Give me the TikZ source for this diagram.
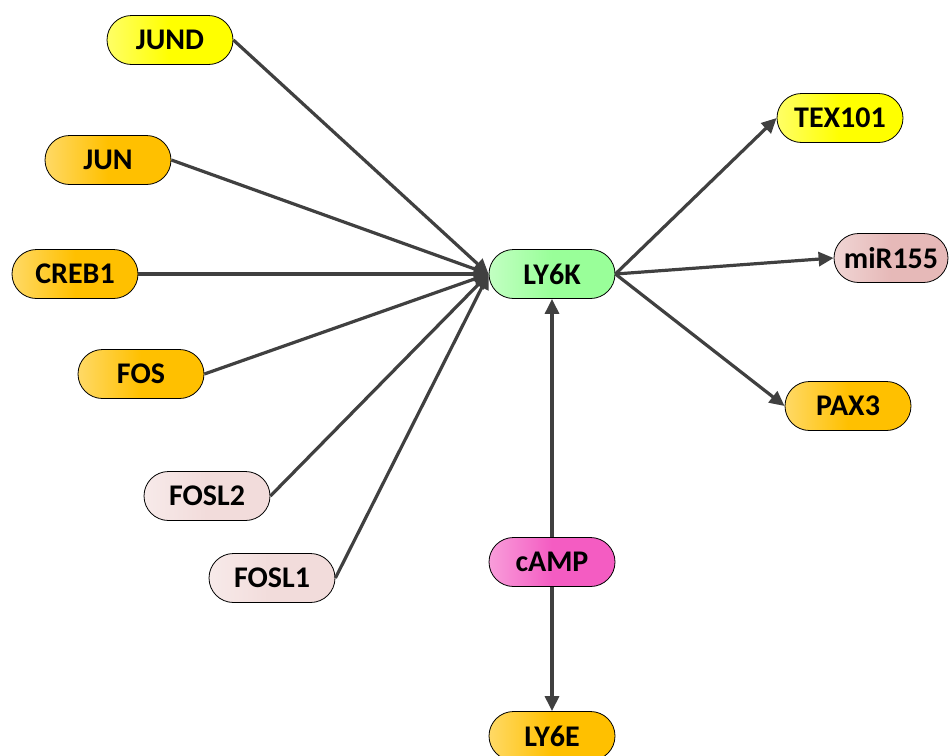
\documentclass[tikz,border=0pt]{standalone}
\usepackage{fontspec}
\setmainfont{Carlito}
\usetikzlibrary{shapes.misc,arrows.meta}
\definecolor{cyel}{HTML}{FFFF00}
\definecolor{corg}{HTML}{FFC000}
\definecolor{cgrn}{HTML}{99FF99}
\definecolor{cmag}{HTML}{F45CC2}
\definecolor{cpnk}{HTML}{F2DCDB}
\definecolor{cmir}{HTML}{E6B9B8}
\definecolor{cedge}{HTML}{404040}
\tikzset{
  gene/.style={rounded rectangle, draw=black, line width=0.8pt,
    minimum width=130pt, minimum height=49pt, inner sep=2pt,
    font=\fontsize{30}{32}\selectfont\bfseries},
  gfill/.style={left color=#1!60!white, right color=#1, middle color=#1},
  link/.style={draw=cedge, line width=3.2pt, -{Triangle[length=15pt,width=14pt]}},
}
\begin{document}
\begin{tikzpicture}[x=1pt,y=-1pt]
\useasboundingbox (0,0) rectangle (952,755);
\node[gene, gfill=cyel] (jund) at (170,40) {JUND};
\node[gene, gfill=corg] (jun) at (108,160) {JUN};
\node[gene, gfill=corg] (creb1) at (75,274) {CREB1};
\node[gene, gfill=corg] (fos) at (141,374) {FOS};
\node[gene, gfill=cpnk] (fosl2) at (207,496) {FOSL2};
\node[gene, gfill=cpnk] (fosl1) at (272,578) {FOSL1};
\node[gene, gfill=cgrn] (ly6k) at (552,274) {LY6K};
\node[gene, gfill=cyel] (tex101) at (840,118) {TEX101};
\node[gene, gfill=cmir, minimum width=118pt] (mir155) at (891,258) {miR155};
\node[gene, gfill=corg] (pax3) at (848,406) {PAX3};
\node[gene, gfill=cmag] (camp) at (552,562) {cAMP};
\node[gene, gfill=corg] (ly6e) at (552,736) {LY6E};
\draw[link] (jund.east) -- (ly6k.west);
\draw[link] (jun.east) -- (ly6k.west);
\draw[link] (creb1.east) -- (ly6k.west);
\draw[link] (fos.east) -- (ly6k.west);
\draw[link] (fosl2.east) -- (ly6k.west);
\draw[link] (fosl1.east) -- (ly6k.west);
\draw[link] (ly6k.east) -- (tex101.west);
\draw[link] (ly6k.east) -- (mir155.west);
\draw[link] (ly6k.east) -- (pax3.west);
\draw[link] (camp.north) -- (ly6k.south);
\draw[link] (camp.south) -- (ly6e.north);
\end{tikzpicture}
\end{document}
